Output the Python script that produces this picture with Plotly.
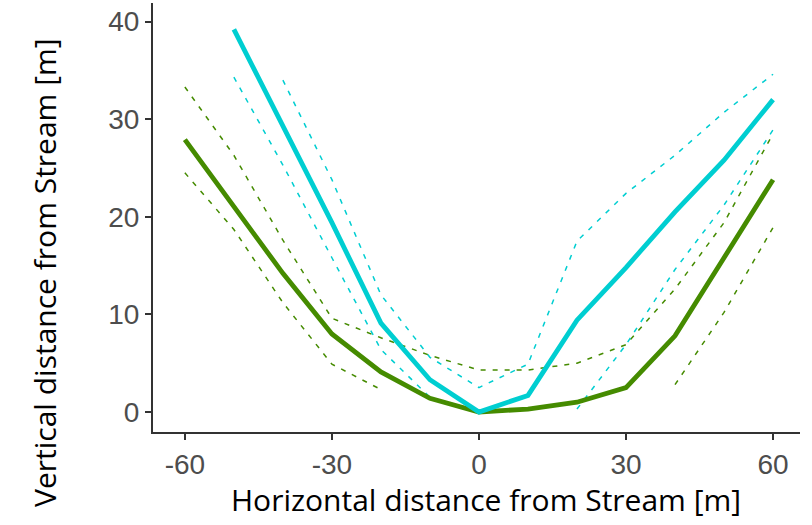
import plotly.graph_objects as go

x_green = [-60, -50, -40, -30, -20, -10, 0, 10, 20, 30, 40, 50, 60]
green_mean = [27.9, 21.0, 14.2, 8.0, 4.1, 1.4, 0.0, 0.3, 1.0, 2.5, 7.8, 15.8, 23.8]
green_upper = [33.3, 26.3, 17.6, 9.6, 7.6, 5.8, 4.3, 4.3, 5.0, 6.9, 12.6, 19.4, 28.5]
green_lower = [24.5, 18.7, 11.2, 4.9, 2.3, None, None, None, None, None, 2.8, 10.2, 18.9]

x_cyan = [-50, -40, -30, -20, -10, 0, 10, 20, 30, 40, 50, 60]
cyan_mean = [39.2, 29.3, 19.4, 9.1, 3.3, 0.0, 1.7, 9.4, 14.8, 20.5, 25.8, 32.0]
cyan_upper = [None, 34.0, 23.8, 12.0, 5.6, 2.5, 4.9, 17.5, 22.4, 26.3, 30.7, 34.6]
cyan_lower = [34.3, 25.3, 15.8, 6.4, 1.5, None, None, 0.3, 6.9, 14.6, 21.2, 28.9]

x_ticks = [-60, -30, 0, 30, 60]
x_tick_labels = ["-60", "-30", "0", "30", "60"]
y_ticks = [0, 10, 20, 30, 40]
y_tick_labels = ["0", "10", "20", "30", "40"]

x_title = "Horizontal distance from Stream [m]"
y_title = "Vertical distance from Stream [m]"

GREEN = "#458B00"
CYAN = "#00CED1"
DASH = "5px,7px"

fig = go.Figure()
for xs, ys, col in [(x_green, green_upper, GREEN), (x_green, green_lower, GREEN),
                    (x_cyan, cyan_upper, CYAN), (x_cyan, cyan_lower, CYAN)]:
    fig.add_trace(go.Scatter(x=xs, y=ys, mode="lines", connectgaps=False,
                             line=dict(color=col, width=1.5, dash=DASH),
                             hoverinfo="skip", showlegend=False))
fig.add_trace(go.Scatter(x=x_green, y=green_mean, mode="lines",
                         line=dict(color=GREEN, width=4.8), showlegend=False))
fig.add_trace(go.Scatter(x=x_cyan, y=cyan_mean, mode="lines",
                         line=dict(color=CYAN, width=4.8), showlegend=False))

axis_common = dict(showgrid=False, zeroline=False, showline=True, linecolor="#333333",
                   linewidth=2, ticks="outside", ticklen=6, tickwidth=1.5, tickcolor="#333333",
                   automargin=False,
                   tickfont=dict(family="Liberation Sans, Arial", size=28, color="#4D4D4D"))

title_font = dict(family="Open Sans, Noto Sans", size=30, color="black")

fig.update_layout(
    width=812, height=525,
    margin=dict(l=153, r=12, t=3, b=93),
    paper_bgcolor="white", plot_bgcolor="white",
    xaxis=dict(range=[-66.5, 65.5], tickvals=x_ticks, ticktext=x_tick_labels, **axis_common),
    yaxis=dict(range=[-2.05, 41.9], tickvals=y_ticks, ticktext=y_tick_labels, **axis_common),
    annotations=[
        dict(text=x_title, xref="paper", yref="paper", x=0.515, y=-0.1585,
             xanchor="center", yanchor="middle", showarrow=False, font=title_font),
        dict(text=y_title, xref="paper", yref="paper", x=-0.167, y=0.373,
             xanchor="center", yanchor="middle", showarrow=False, textangle=-90,
             font=title_font),
    ],
)

fig.write_html("out.html", config={"displayModeBar": False},
               post_script="document.body.style.margin='0px';")
